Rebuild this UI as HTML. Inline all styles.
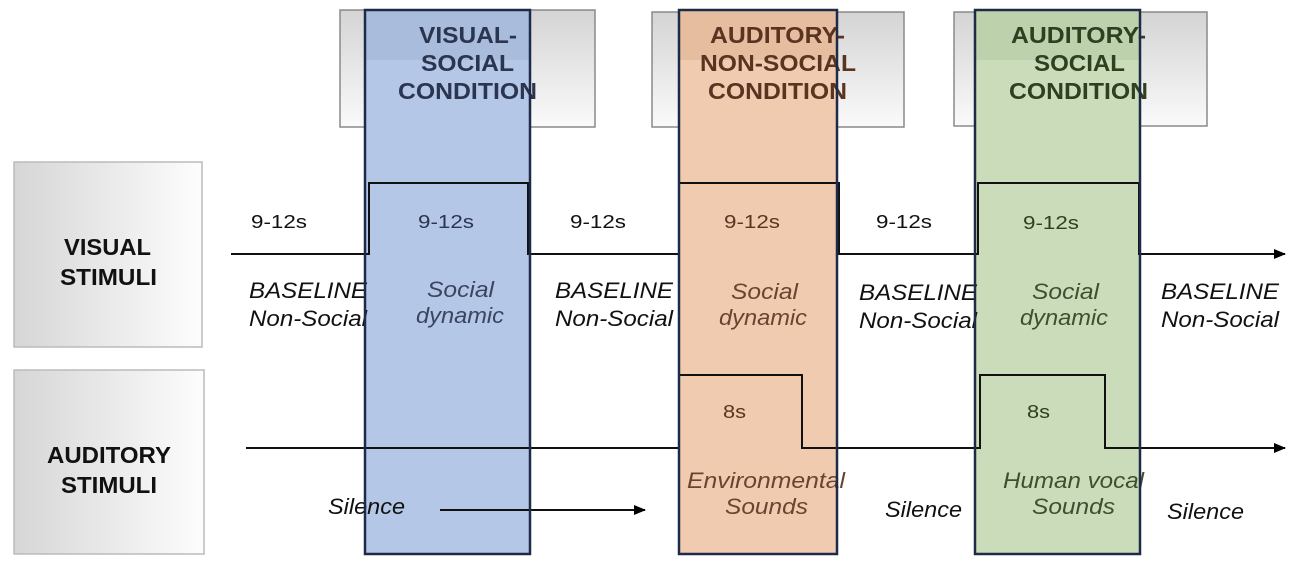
<!DOCTYPE html>
<html><head><meta charset="utf-8"><style>
html,body{margin:0;padding:0;background:#fff;}
svg{display:block;}
text{font-family:"Liberation Sans",sans-serif;}
.b{font-weight:bold;font-size:23px;}
.s{font-size:18px;}
.i{font-style:italic;font-size:22px;}
</style></head><body>
<svg width="1296" height="564" viewBox="0 0 1296 564" xmlns="http://www.w3.org/2000/svg">
<defs>
<linearGradient id="gv" x1="0" y1="0" x2="0" y2="1"><stop offset="0" stop-color="#d4d4d4"/><stop offset="1" stop-color="#fafafa"/></linearGradient>
<linearGradient id="gh" x1="0" y1="0" x2="1" y2="0"><stop offset="0" stop-color="#d6d6d6"/><stop offset="1" stop-color="#fdfdfd"/></linearGradient>
<marker id="ar" markerWidth="12" markerHeight="10" refX="11" refY="5" orient="auto" markerUnits="userSpaceOnUse"><path d="M0,0 L12,5 L0,10 z" fill="#000"/></marker>
</defs>
<rect x="340" y="10" width="255" height="117" fill="url(#gv)" stroke="#8a8a8a" stroke-width="1.5"/>
<rect x="652" y="12" width="252" height="115" fill="url(#gv)" stroke="#8a8a8a" stroke-width="1.5"/>
<rect x="954" y="12" width="253" height="114" fill="url(#gv)" stroke="#8a8a8a" stroke-width="1.5"/>
<rect x="14" y="162" width="188" height="185" fill="url(#gh)" stroke="#bbb" stroke-width="1.5"/>
<rect x="14" y="370" width="190" height="184" fill="url(#gh)" stroke="#bbb" stroke-width="1.5"/>
<rect x="365" y="10" width="165" height="544" fill="#b5c7e6"/>
<rect x="679" y="10" width="158" height="544" fill="#f1cbb0"/>
<rect x="975" y="10" width="165" height="544" fill="#cadcb9"/>
<rect x="365" y="10" width="165" height="50" fill="#9aaccc" opacity="0.4"/>
<rect x="679" y="10" width="158" height="50" fill="#d9a88a" opacity="0.4"/>
<rect x="975" y="10" width="165" height="50" fill="#a8c098" opacity="0.4"/>
<polyline points="231,254 369,254 369,183 528,183 528,254 679,254 679,183 839,183 839,254 978,254 978,183 1139,183 1139,254 1285,254" fill="none" stroke="#111" stroke-width="2" marker-end="url(#ar)"/>
<polyline points="246,448 679,448 679,375 802,375 802,448 980,448 980,375 1105,375 1105,448 1285,448" fill="none" stroke="#111" stroke-width="2" marker-end="url(#ar)"/>
<line x1="440" y1="510" x2="645" y2="510" stroke="#111" stroke-width="2" marker-end="url(#ar)"/>
<g class="b" fill="#2b3550" lengthAdjust="spacingAndGlyphs">
<text x="419" y="43" textLength="98" lengthAdjust="spacingAndGlyphs">VISUAL-</text>
<text x="421" y="71" textLength="93" lengthAdjust="spacingAndGlyphs">SOCIAL</text>
<text x="398" y="99" textLength="139" lengthAdjust="spacingAndGlyphs">CONDITION</text></g>
<g class="b" fill="#5a3420">
<text x="710" y="43" textLength="135" lengthAdjust="spacingAndGlyphs">AUDITORY-</text>
<text x="700" y="71" textLength="156" lengthAdjust="spacingAndGlyphs">NON-SOCIAL</text>
<text x="708" y="99" textLength="139" lengthAdjust="spacingAndGlyphs">CONDITION</text></g>
<g class="b" fill="#2e3f22">
<text x="1011" y="43" textLength="135" lengthAdjust="spacingAndGlyphs">AUDITORY-</text>
<text x="1034" y="71" textLength="91" lengthAdjust="spacingAndGlyphs">SOCIAL</text>
<text x="1009" y="99" textLength="139" lengthAdjust="spacingAndGlyphs">CONDITION</text></g>
<g class="b" fill="#111">
<text x="64" y="255" textLength="87" lengthAdjust="spacingAndGlyphs">VISUAL</text>
<text x="60" y="285" textLength="97" lengthAdjust="spacingAndGlyphs">STIMULI</text>
<text x="47" y="463" textLength="124" lengthAdjust="spacingAndGlyphs">AUDITORY</text>
<text x="61" y="493" textLength="96" lengthAdjust="spacingAndGlyphs">STIMULI</text></g>
<g class="s">
<text x="251" y="228" textLength="56" lengthAdjust="spacingAndGlyphs" fill="#111">9-12s</text>
<text x="418" y="228" textLength="56" lengthAdjust="spacingAndGlyphs" fill="#2b3550">9-12s</text>
<text x="570" y="228" textLength="56" lengthAdjust="spacingAndGlyphs" fill="#111">9-12s</text>
<text x="724" y="228" textLength="56" lengthAdjust="spacingAndGlyphs" fill="#5a3420">9-12s</text>
<text x="876" y="228" textLength="56" lengthAdjust="spacingAndGlyphs" fill="#111">9-12s</text>
<text x="1023" y="229" textLength="56" lengthAdjust="spacingAndGlyphs" fill="#2e3f22">9-12s</text>
<text x="723" y="418" textLength="23" lengthAdjust="spacingAndGlyphs" fill="#5a3420">8s</text>
<text x="1027" y="418" textLength="23" lengthAdjust="spacingAndGlyphs" fill="#2e3f22">8s</text></g>
<g class="i" fill="#111">
<text x="249" y="298" textLength="118" lengthAdjust="spacingAndGlyphs">BASELINE</text>
<text x="249" y="326" textLength="118" lengthAdjust="spacingAndGlyphs">Non-Social</text>
<text x="555" y="298" textLength="118" lengthAdjust="spacingAndGlyphs">BASELINE</text>
<text x="555" y="326" textLength="118" lengthAdjust="spacingAndGlyphs">Non-Social</text>
<text x="859" y="300" textLength="118" lengthAdjust="spacingAndGlyphs">BASELINE</text>
<text x="859" y="328" textLength="118" lengthAdjust="spacingAndGlyphs">Non-Social</text>
<text x="1161" y="299" textLength="118" lengthAdjust="spacingAndGlyphs">BASELINE</text>
<text x="1161" y="327" textLength="118" lengthAdjust="spacingAndGlyphs">Non-Social</text>
<text x="328" y="514" textLength="77" lengthAdjust="spacingAndGlyphs">Silence</text>
<text x="885" y="517" textLength="77" lengthAdjust="spacingAndGlyphs">Silence</text>
<text x="1167" y="519" textLength="77" lengthAdjust="spacingAndGlyphs">Silence</text></g>
<g class="i" fill="#3b4560">
<text x="427" y="297" textLength="67" lengthAdjust="spacingAndGlyphs">Social</text>
<text x="416" y="323" textLength="88" lengthAdjust="spacingAndGlyphs">dynamic</text></g>
<g class="i" fill="#6a4430">
<text x="731" y="299" textLength="67" lengthAdjust="spacingAndGlyphs">Social</text>
<text x="719" y="325" textLength="88" lengthAdjust="spacingAndGlyphs">dynamic</text>
<text x="687" y="488" textLength="158" lengthAdjust="spacingAndGlyphs">Environmental</text>
<text x="725" y="514" textLength="83" lengthAdjust="spacingAndGlyphs">Sounds</text></g>
<g class="i" fill="#3e4f32">
<text x="1032" y="299" textLength="67" lengthAdjust="spacingAndGlyphs">Social</text>
<text x="1020" y="325" textLength="88" lengthAdjust="spacingAndGlyphs">dynamic</text>
<text x="1003" y="488" textLength="141" lengthAdjust="spacingAndGlyphs">Human vocal</text>
<text x="1032" y="514" textLength="83" lengthAdjust="spacingAndGlyphs">Sounds</text></g>
<g fill="none" stroke="#1d2a48" stroke-width="2.5"><rect x="365" y="10" width="165" height="544"/><rect x="679" y="10" width="158" height="544"/><rect x="975" y="10" width="165" height="544"/></g>
</svg>
</body></html>
